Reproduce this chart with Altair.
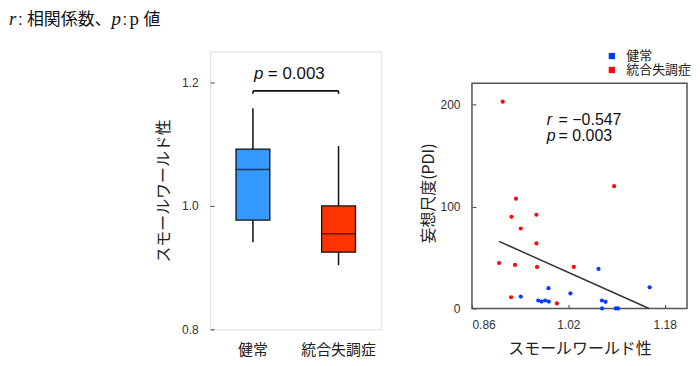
import altair as alt
import pandas as pd

# ---- heading pieces ----
heading_parts = ["r", ":", "相関係数、", "p", ":", "p", "値"]

# ---- box plot summary (スモールワールド性) ----
groups = ["健常", "統合失調症"]
box_q1 = [0.977, 0.925]
box_median = [1.059, 0.955]
box_q3 = [1.092, 1.000]
whisker_low = [0.941, 0.904]
whisker_high = [1.158, 1.097]
box_colors = ["#3399ff", "#ff3300"]

bracket_y = [1.1863]
bracket_end_y = [1.1815]
box_p_parts = ["p", "= 0.003"]

# ---- scatter (スモールワールド性 vs 妄想尺度) ----
healthy_sw = [1.070, 1.155, 0.987, 1.0235, 0.941, 0.970, 0.9755, 0.9815, 0.9876,
              1.0757, 1.0817, 1.076, 1.0988, 1.1025]
healthy_pdi = [38.8, 20.8, 19.9, 14.7, 11.7, 7.8, 6.8, 7.8, 6.8, 7.8, 6.5, 0, 0, 0]
schizo_sw = [0.911, 1.096, 0.933, 0.9255, 0.967, 0.941, 0.967, 0.905, 0.9315,
             0.968, 1.029, 0.925, 1.001]
schizo_pdi = [203, 120, 107.8, 90, 92, 78.5, 63.8, 44.6, 42.7, 40.8, 40.8, 11, 4.9]
fit_sw = [0.905, 1.154]
fit_pdi = [65.8, 0.0]
point_colors = ["#0a3cff", "#ff0a0a"]
corr_parts = ["r", "= \u22120.547", "p", "= 0.003"]
frame_sw = [0.86, 1.217]
frame_pdi = [0, 221]

FONT = "Liberation Sans, Noto Sans CJK JP, sans-serif"
JP = "Noto Sans CJK JP, sans-serif"
SERIF = "Liberation Serif, Times New Roman, serif"
INK = "#111111"
FRAME = "#555555"

# ---------------- left: box plot ----------------
box_df = pd.DataFrame({"group": groups, "q1": box_q1, "med": box_median,
                       "q3": box_q3, "lo": whisker_low, "hi": whisker_high})
yscale_b = alt.Scale(domain=[0.8, 1.25], nice=False, zero=False)
yaxis_b = alt.Axis(values=[0.8, 1.0, 1.2], format=".1f", offset=-4, tickSize=4,
                   labelPadding=12, domain=False, grid=False,
                   title="スモールワールド性", titleFont=JP, titleFontSize=16,
                   titleFontWeight="normal", titlePadding=10, titleColor="#222",
                   labelFontSize=12, labelColor="#333", tickColor="#444")
xscale_b = alt.Scale(domain=groups, paddingInner=0, paddingOuter=0)
xaxis_b = alt.Axis(title=None, labelAngle=0, ticks=False, domain=False,
                   labelFontSize=15, labelPadding=13, labelColor="#222", labelFont=JP)
xb = alt.X("group:N", sort=groups, scale=xscale_b, axis=xaxis_b)

base_b = alt.Chart(box_df)
whisk = base_b.mark_rule(color=INK, strokeWidth=1.5).encode(
    x=xb, y=alt.Y("lo:Q", scale=yscale_b, axis=yaxis_b), y2="hi:Q")
boxes = base_b.mark_bar(size=34, stroke=INK, strokeWidth=1.3).encode(
    x=xb, y=alt.Y("q1:Q", scale=yscale_b, axis=yaxis_b), y2="q3:Q",
    color=alt.Color("group:N", scale=alt.Scale(domain=groups, range=box_colors), legend=None))
meds = base_b.mark_tick(orient="horizontal", size=34, thickness=1.6, color=INK).encode(
    x=xb, y=alt.Y("med:Q", scale=yscale_b, axis=yaxis_b))

br_df = pd.DataFrame({"g1": [groups[0]], "g2": [groups[1]], "y": bracket_y})
bracket = alt.Chart(br_df).mark_rule(color=INK, strokeWidth=1.6).encode(
    x=alt.X("g1:N", scale=xscale_b, axis=xaxis_b), x2="g2:N",
    y=alt.Y("y:Q", scale=yscale_b, axis=yaxis_b))
ends_df = pd.DataFrame({"group": groups, "y": bracket_y * 2, "y2": bracket_end_y * 2})
ends = alt.Chart(ends_df).mark_rule(color=INK, strokeWidth=1.6).encode(
    x=xb, y=alt.Y("y:Q", scale=yscale_b, axis=yaxis_b), y2="y2:Q")

ptxt_df = pd.DataFrame({"t": box_p_parts})
ptxt_i = alt.Chart(ptxt_df.iloc[[0]]).mark_text(
    align="left", baseline="alphabetic", fontSize=17, fontStyle="italic",
    font=FONT, color=INK).encode(x=alt.value(44), y=alt.value(28), text="t:N")
ptxt_n = alt.Chart(ptxt_df.iloc[[1]]).mark_text(
    align="left", baseline="alphabetic", fontSize=17, font=FONT, color=INK
).encode(x=alt.value(58), y=alt.value(28), text="t:N")

# heading, placed relative to the left panel (panel origin is at page x=209, y=51)
head_df = pd.DataFrame({"t": heading_parts})
head_style = [  # (x offset, font, style, size)
    (-202, SERIF, "italic", 19),
    (-193, FONT, "normal", 17),
    (-184, JP, "normal", 17),
    (-99, SERIF, "italic", 19),
    (-88, FONT, "normal", 17),
    (-81, SERIF, "normal", 19),
    (-67, JP, "normal", 17),
]
head_layers = []
for i, (hx, hf, hs, hsz) in enumerate(head_style):
    head_layers.append(alt.Chart(head_df.iloc[[i]]).mark_text(
        align="left", baseline="alphabetic", fontSize=hsz, fontStyle=hs, font=hf,
        color=INK).encode(x=alt.value(hx), y=alt.value(-27), text="t:N"))

left = alt.layer(whisk, boxes, meds, bracket, ends, ptxt_i, ptxt_n, *head_layers).properties(
    width=172, height=279)

# ---------------- right: scatter ----------------
sc_df = pd.DataFrame({
    "sw": healthy_sw + schizo_sw,
    "pdi": healthy_pdi + schizo_pdi,
    "cohort": [groups[0]] * len(healthy_sw) + [groups[1]] * len(schizo_sw),
})
fit_df = pd.DataFrame({"sw": fit_sw, "pdi": fit_pdi})
frame_df = pd.DataFrame({"x": [frame_sw[0]], "x2": [frame_sw[1]],
                         "y": [frame_pdi[0]], "y2": [frame_pdi[1]]})
xscale_s = alt.Scale(domain=[0.86, 1.217], nice=False, zero=False)
yscale_s = alt.Scale(domain=[0, 252.2], nice=False, zero=False)
xaxis_s = alt.Axis(values=[0.86, 1.02, 1.18], format=".2f", offset=-4, tickSize=4,
                   labelPadding=11, domain=False, grid=False,
                   title="スモールワールド性", titleFont=JP, titleFontSize=16,
                   titleFontWeight="normal", titlePadding=10, titleColor="#222",
                   labelFontSize=12, labelColor="#333", tickColor="#444")
yaxis_s = alt.Axis(values=[0, 100, 200], format="d", offset=-4, tickSize=4,
                   labelPadding=12, domain=False, grid=False,
                   title="妄想尺度(PDI)", titleFont=JP, titleFontSize=16,
                   titleFontWeight="normal", titlePadding=4, titleColor="#222",
                   titleY=142,
                   labelFontSize=12, labelColor="#333", tickColor="#444")

frame = alt.Chart(frame_df).mark_rect(fillOpacity=0, stroke=FRAME, strokeWidth=1.5).encode(
    x=alt.X("x:Q", scale=xscale_s, axis=xaxis_s), x2="x2:Q",
    y=alt.Y("y:Q", scale=yscale_s, axis=yaxis_s), y2="y2:Q")
pts = alt.Chart(sc_df).mark_circle(size=18, opacity=1).encode(
    x=alt.X("sw:Q", scale=xscale_s, axis=xaxis_s),
    y=alt.Y("pdi:Q", scale=yscale_s, axis=yaxis_s),
    color=alt.Color("cohort:N", scale=alt.Scale(domain=groups, range=point_colors),
                    legend=alt.Legend(title=None, orient="none", legendX=134, legendY=-2,
                                      symbolType="square", symbolSize=40,
                                      symbolStrokeWidth=0, labelFontSize=13,
                                      labelFont=JP, labelColor="#222",
                                      labelOffset=8, rowPadding=0)))
fit = alt.Chart(fit_df).mark_line(color="#333333", strokeWidth=1.5).encode(
    x=alt.X("sw:Q", scale=xscale_s, axis=xaxis_s),
    y=alt.Y("pdi:Q", scale=yscale_s, axis=yaxis_s))

corr_df = pd.DataFrame({"t": corr_parts})
corr_layers = []
for i, (px, py, style) in enumerate([(75, 74, "italic"), (87, 74, "normal"),
                                     (75, 90, "italic"), (87, 90, "normal")]):
    corr_layers.append(alt.Chart(corr_df.iloc[[i]]).mark_text(
        align="left", baseline="alphabetic", fontSize=16, fontStyle=style,
        font=FONT, color=INK).encode(x=alt.value(px), y=alt.value(py), text="t:N"))

right = alt.layer(frame, fit, pts, *corr_layers).properties(
    width=216, height=258, view=alt.ViewBackground(strokeOpacity=0))

chart = alt.hconcat(left, right, spacing=37).resolve_scale(color="independent").properties(
    padding={"left": 0, "top": 0, "right": 0, "bottom": 0},
).configure_view(stroke=FRAME, strokeWidth=1.5).configure(font=FONT)

chart.save("out.html", embed_options={"renderer": "svg", "actions": False})
